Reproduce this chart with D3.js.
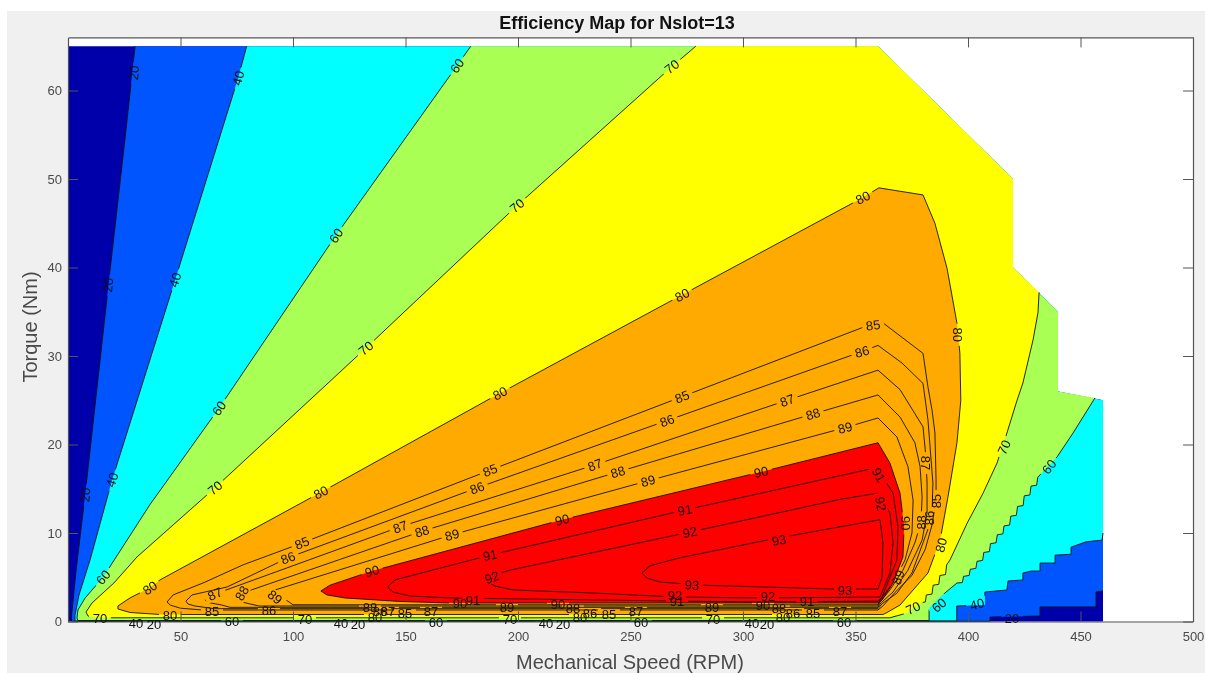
<!DOCTYPE html>
<html><head><meta charset="utf-8">
<script src="https://cdn.jsdelivr.net/npm/d3@7"></script>
<style>
html,body{margin:0;padding:0;background:#fff;overflow:hidden}
svg{display:block;font-family:"Liberation Sans",Arial,sans-serif;filter:blur(0.3px)}
</style></head><body>
<script>
const xTicks=[50,100,150,200,250,300,350,400,450,500];
const yTicks=[0,10,20,30,40,50,60];
const titleText="Efficiency Map for Nslot=13";
const xLabelText="Mechanical Speed (RPM)";
const yLabelText="Torque (Nm)";

// outer limit of the mapped region (rpm, Nm)
const envelope=[[460,0],[460,25],[440,26],[440,35],[420,40],[420,50],[360,65],[0,65],[0,0]];

// iso-efficiency lines (rpm, Nm)
const contour20=[[29.8,65],[25.8,55.6],[18.7,39.7],[7.6,14.3],[3.6,5.8],[1.6,.7],[1.6,.02],[409.8,.03],[409.8,.5],[432,.62],[432,1.65],[456.9,1.65],[456.9,3.33],[460,3.45]];
const contour40=[[79.4,65],[75.6,61.4],[47.6,38.6],[19.6,16],[9.8,6.95],[4.9,3],[3.1,.7],[3.1,.06],[395,.06],[395,1.75],[407.5,1.86],[407.5,3.33],[417.3,3.56],[417.8,4.58],[424.4,4.69],[424.4,5.48],[428,5.7],[432,5.7],[432,6.6],[438.7,6.6],[438.7,7.5],[445.8,7.6],[445.8,8.4],[452.4,9],[459.6,9.2],[460,10]];
const contour60=[[179,65],[172.9,62.8],[119,43.6],[67.1,24.1],[36.4,13.2],[15.6,5],[7.6,2.65],[4.4,1.3],[4,.4],[4.4,.11],[382.7,.11],[382.7,1.53],[387.6,2.77],[395.1,4.35],[397.5,4.4],[398,5.1],[400.5,5.2],[401,5.9],[403.5,6],[404,6.8],[406.5,6.9],[407,7.8],[409.5,7.9],[410,8.8],[412.5,8.9],[413,9.8],[415.5,9.9],[416,10.8],[418.5,10.9],[419,11.9],[421.5,12],[422,13],[424.5,13.1],[425,14.2],[427.5,14.3],[428,15.3],[430.5,15.4],[431,16.3],[439.6,18.6],[446.7,21.3],[456.4,25.25]];
const contour70=[[279,65],[268.4,62.7],[199.6,47],[132.4,30.9],[65.3,15.1],[30.7,7.3],[20.4,4.35],[10.7,2.1],[8,1.07],[8.9,.62],[12,.42],[365.3,.42],[372.9,.96],[378.7,2.1],[381,2.2],[381.5,3],[384,3.1],[384.5,4.1],[387,4.2],[387.5,5.2],[390,5.3],[390.5,6.4],[392,6.95],[399.6,11.1],[406.7,14.5],[412.9,17.9],[417.3,21.3],[421.8,25],[424.4,26.95],[428.9,31.8],[431.1,34.9],[431.6,37.2]];
const contour80=[[360.4,49],[353.3,47.9],[272.9,36.9],[192,25.8],[112.4,14.6],[40.9,4.7],[36.4,3.8],[27.6,2.67],[22.2,1.75],[22.2,1.41],[27.6,1.02],[40.9,.79],[362.2,.79],[363.6,.96],[369.8,1.86],[375.6,3.56],[382.2,5.48],[387.6,9.2],[391.1,14.07],[395.1,20.2],[396.8,25],[396.4,30.3],[395.1,33.7],[390.7,39.9],[385.3,45],[380,48.2],[360.4,49]];
const contour85=[[44,2.2],[46.7,3],[60,4.35],[77.8,6.4],[104,8.87],[187.6,17.1],[272.9,25.4],[356,33.5],[360.9,34],[380,30.3],[382.2,26.5],[384,23.9],[385.3,21.3],[385.8,16],[385.8,13.7],[384,10.9],[380.9,8.1],[375.1,5.2],[367.6,3.3],[362.2,1.75],[360,1.3],[60,1.3],[50,1.5],[45.5,1.85],[44,2.2]];
const contour86=[[52.4,2.3],[55.1,3],[70.7,3.9],[97.8,7.2],[181.8,15.1],[266.2,22.7],[352.9,30.5],[360,31.2],[370.7,29.2],[380,26.9],[382.2,22.8],[384.4,15.65],[384,11.7],[380,8.9],[375.1,5.5],[368.4,3.2],[361.8,2],[360,1.45],[65,1.45],[56.4,1.75],[53.3,1.98],[52.4,2.3]];
const contour87=[[60.9,2.43],[61.8,2.77],[65.3,3.1],[147.6,10.7],[234.2,17.7],[319.6,25],[360,28.4],[369.8,26.2],[380,22],[381.3,18.6],[381.8,15.65],[381.8,12.26],[379.6,9.2],[373.3,5.8],[366.7,3.33],[361.3,2.1],[360,1.6],[72,1.6],[68.4,1.86],[62.2,2.15],[60.9,2.43]];
const contour88=[[75.1,2.66],[77.3,3.2],[157.3,10.2],[244.4,16.9],[331.1,23.45],[360,25.6],[369.8,23.1],[376.4,20.2],[378.7,17.5],[379.6,14.07],[379.1,11.2],[376.4,8.9],[371.1,5.8],[365.3,3.56],[360.9,2.2],[360,1.75],[85,1.75],[80.9,1.98],[76.4,2.26],[75.1,2.66]];
const contour89=[[88.9,3.1],[92,3.56],[170.7,9.8],[257.8,15.9],[345.3,21.9],[360,23],[368.4,20.85],[373.3,17.5],[375.6,13.7],[375.1,10],[372,6.95],[366.7,4.35],[360.9,2.43],[360,1.89],[100,1.89],[97.3,2.37],[90.7,2.66],[88.9,3.1]];
const contour90=[[112.4,3.45],[116.4,4.1],[135.1,5.7],[219.6,11.5],[308,16.9],[360,20.2],[365.3,17.9],[369.8,14.5],[371.6,10.7],[371.1,7.3],[366.7,4.35],[361.8,2.43],[360,2.09],[169.8,2.09],[147.6,2.26],[123.1,2.66],[115.1,3],[112.4,3.45]];
const contour91=[[142.2,3.9],[145.3,4.7],[187.6,7.5],[274.2,12.6],[357.8,17.3],[360.4,17.5],[364.4,15.4],[366.7,14.5],[368.9,10.7],[368.4,6.95],[361.8,2.77],[360,2.3],[305.3,2.2],[272,2.3],[218.7,2.49],[169.8,2.66],[152,2.88],[144.4,3.33],[142.2,3.9]];
const contour92=[[186.7,4.46],[189.3,5.26],[196.4,5.8],[276.4,10.1],[343.1,13.8],[360,14.5],[365.3,12.26],[366.7,8.9],[365.3,5.48],[360.9,2.77],[307.6,2.66],[269.8,2.77],[233.3,3.22],[197.8,3.56],[189.8,4],[186.7,4.46]];
const contour93=[[255.1,5.48],[258.7,6.3],[272,7.2],[310.7,9.2],[343.1,10.7],[360.9,11.5],[362.2,8.9],[361.8,5],[360,3.67],[340,3.67],[282.2,4.1],[263.1,4.46],[257.3,4.9],[255.1,5.48]];

// contour labels: rpm, Nm, text rotation
const labels20=[[29.3,62,-85],[17.8,38,-85],[7.6,14.3,-85],[38.2,-.28,0],[128.9,-.28,0],[220,-.28,0],[310.7,-.28,0],[419.6,.4,0]];
const labels40=[[75.6,61.4,-75],[47.6,38.6,-72],[19.6,16,-72],[30.2,-.17,0],[121.3,-.17,0],[212.4,-.17,0],[304,-.17,0],[404,1.98,-15]];
const labels60=[[172.9,62.8,-55],[119.1,43.6,-55],[67.1,24.1,-55],[15.6,5,-50],[72.9,.06,0],[163.6,-.06,0],[254.7,-.06,0],[344.9,-.06,0],[387.1,1.86,-40],[436,17.5,-52]];
const labels70=[[268.4,62.7,-38],[199.6,47,-40],[132.4,30.9,-40],[65.3,15.1,-40],[14.2,.4,0],[105.3,.28,0],[196.4,.28,0],[286.7,.28,0],[375.6,1.53,-25],[416,19.7,-65]];
const labels80=[[353.3,47.9,-27],[272.9,36.9,-27],[192,25.8,-27],[112.4,14.6,-27],[36.4,3.8,-35],[45.3,.73,0],[136.4,.51,0],[227.6,.51,0],[317.8,.51,0],[395.6,32.4,90],[388,8.64,-75]];
const labels85=[[104,8.87,-22],[187.6,17.1,-21],[272.9,25.4,-21],[357.8,33.5,-8],[64,1.19,0],[149.8,.96,0],[240.4,.85,0],[331.1,.96,0],[385.8,13.6,-90]];
const labels86=[[97.8,7.2,-22],[181.8,15.1,-21],[266.2,22.7,-21],[352.9,30.5,-15],[89.3,1.3,0],[138.7,1.19,0],[232,.96,0],[322.2,.96,0],[382.7,11.7,-90]];
const labels87=[[65.3,3.1,-25],[147.6,10.7,-20],[234.2,17.7,-20],[319.6,25,-20],[381.3,17.9,90],[142.2,1.19,0],[161.3,1.19,0],[252.4,1.19,0],[343.1,1.19,0]];
const labels88=[[77.3,3.2,-60],[157.3,10.2,-17],[244.4,16.9,-17],[331.1,23.45,-17],[224.4,1.53,0],[134.2,1.64,0],[316,1.53,0],[379.1,11.2,-90]];
const labels89=[[92,2.77,40],[170.7,9.8,-15],[257.8,15.9,-15],[345.3,21.9,-15],[195.1,1.64,0],[286.2,1.64,0],[368.9,5,-70]];
const labels90=[[135.1,5.7,-15],[219.6,11.5,-14],[308,16.9,-12],[174.2,2.09,0],[217.8,1.98,0],[308.9,1.86,0],[372.4,11.1,90]];
const labels91=[[187.6,7.5,-12],[274.2,12.6,-12],[360.4,16.55,60],[180,2.43,0],[270.7,2.32,0],[328.4,2.32,0]];
const labels92=[[188.4,5,-20],[276.4,10.1,-12],[361.3,13.3,80],[269.8,3,0],[311.1,2.88,0]];
const labels93=[[316,9.2,-10],[277.3,4.12,3],[345.3,3.56,0]];

const levels=[20,40,60,70,80,85,86,87,88,89,90,91,92,93];
const contours=[contour20,contour40,contour60,contour70,contour80,contour85,contour86,contour87,contour88,contour89,contour90,contour91,contour92,contour93];
const labelSets=[labels20,labels40,labels60,labels70,labels80,labels85,labels86,labels87,labels88,labels89,labels90,labels91,labels92,labels93];

const baseColor="#0000aa";
const fillLevels=[20,40,60,70,80,90];
const fillColors=["#0055ff","#00ffff","#aaff55","#ffff00","#ffaa00","#ff0000"];
// how much of the envelope closes each open contour
const closureStart={20:1,40:1,60:2,70:4};

const W=1205,H=673;
const x=d3.scaleLinear().domain([0,500]).range([68,1193]);
const y=d3.scaleLinear().domain([0,66]).range([621.5,37.4]);
const line=d3.line().x(d=>x(d[0])).y(d=>y(d[1]));

const svg=d3.select("body").append("svg").attr("width",W).attr("height",H);
svg.append("rect").attr("x",7).attr("y",11).attr("width",W-7).attr("height",H-11).attr("fill","#f0f0f0");
svg.append("rect").attr("x",x(0)).attr("y",y(66)).attr("width",x(500)-x(0)).attr("height",y(0)-y(66)).attr("fill","#fff");

// filled bands
const fills=svg.append("g");
fills.append("path").attr("d",line(envelope)+"Z").attr("fill",baseColor);
fillLevels.forEach((lv,i)=>{
  const c=contours[levels.indexOf(lv)];
  const tail=lv in closureStart?envelope.slice(closureStart[lv],7):[];
  fills.append("path").attr("d",line(c.concat(tail))+"Z").attr("fill",fillColors[i]);
});

// lines with gaps where their own labels sit
const defs=svg.append("defs");
levels.forEach((lv,i)=>{
  const m=defs.append("mask").attr("id","m"+lv).attr("maskUnits","userSpaceOnUse")
    .attr("x",0).attr("y",0).attr("width",W).attr("height",H);
  m.append("rect").attr("width",W).attr("height",H).attr("fill","#fff");
  m.selectAll("rect.g").data(labelSets[i]).join("rect").attr("class","g")
    .attr("x",-11).attr("y",-6).attr("width",22).attr("height",12).attr("fill","#000")
    .attr("transform",d=>`translate(${x(d[0])},${y(d[1])}) rotate(${d[2]})`);
  svg.append("path").attr("d",line(contours[i])).attr("fill","none")
    .attr("stroke","#111").attr("stroke-width",.9).attr("stroke-linejoin","round")
    .attr("mask",`url(#m${lv})`);
});

// axes
const axisColor="#555",textColor="#4a4a4a";
function styleAxis(g){
  g.selectAll(".domain").attr("stroke",axisColor).attr("stroke-width",1.2);
  g.selectAll(".tick line").attr("stroke",axisColor).attr("stroke-width",1);
  g.selectAll("text").attr("fill",textColor).attr("font-size",13).attr("font-family","inherit");
}
svg.append("g").attr("transform",`translate(0,${y(0)})`)
  .call(d3.axisBottom(x).tickValues(xTicks).tickSizeInner(-10).tickSizeOuter(0).tickPadding(10)).call(styleAxis);
svg.append("g").attr("transform",`translate(0,${y(66)})`)
  .call(d3.axisTop(x).tickValues(xTicks).tickSizeInner(-10).tickSizeOuter(0).tickFormat("")).call(styleAxis);
svg.append("g").attr("transform",`translate(${x(0)},0)`)
  .call(d3.axisLeft(y).tickValues(yTicks).tickSizeInner(-10).tickSizeOuter(0).tickPadding(6)).call(styleAxis);
svg.append("g").attr("transform",`translate(${x(500)},0)`)
  .call(d3.axisRight(y).tickValues(yTicks).tickSizeInner(-10).tickSizeOuter(0).tickFormat("")).call(styleAxis);

// contour labels
levels.forEach((lv,i)=>{
  svg.append("g").selectAll("text").data(labelSets[i]).join("text")
    .attr("transform",d=>`translate(${x(d[0])},${y(d[1])}) rotate(${d[2]})`)
    .attr("text-anchor","middle").attr("dy","0.36em").attr("font-size",13).attr("fill","#111")
    .text(lv);
});

// titles
svg.append("text").attr("x",617).attr("y",29).attr("text-anchor","middle")
  .attr("font-size",18).attr("font-weight","bold").attr("fill","#111").text(titleText);
svg.append("text").attr("x",630).attr("y",669).attr("text-anchor","middle")
  .attr("font-size",20).attr("fill",textColor).text(xLabelText);
svg.append("text").attr("transform","translate(37,327) rotate(-90)").attr("text-anchor","middle")
  .attr("font-size",20).attr("fill",textColor).text(yLabelText);
</script>
</body></html>
